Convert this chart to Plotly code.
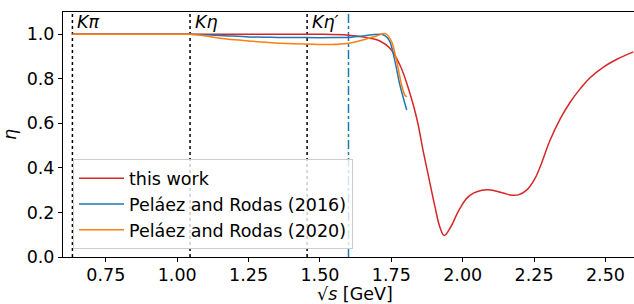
import plotly.graph_objects as go

# ---- data ----
red_x = [0.633, 0.8, 1.0, 1.2, 1.4, 1.5, 1.6, 1.64, 1.675, 1.71, 1.745, 1.78, 1.815, 1.839, 1.862,
         1.879, 1.903, 1.92, 1.935, 1.955, 1.99, 2.025, 2.084, 2.142, 2.17, 2.195, 2.224, 2.25, 2.271,
         2.306, 2.342, 2.377, 2.412, 2.447, 2.493, 2.54, 2.598]
red_y = [1.0, 1.0, 1.0, 1.0, 1.0, 1.0, 0.996, 0.99, 0.982, 0.97, 0.937, 0.862, 0.735, 0.623, 0.473,
         0.37, 0.225, 0.135, 0.097, 0.128, 0.217, 0.277, 0.302, 0.287, 0.278, 0.279, 0.30, 0.345, 0.404,
         0.524, 0.621, 0.696, 0.756, 0.806, 0.853, 0.888, 0.921]

blue_x = [0.633, 0.8, 1.0, 1.045, 1.15, 1.25, 1.35, 1.45, 1.55, 1.6, 1.65, 1.69, 1.715, 1.73, 1.745,
          1.763, 1.78, 1.804]
blue_y = [1.0, 1.0, 1.0, 1.0, 0.995, 0.988, 0.986, 0.985, 0.985, 0.986, 0.992, 0.999, 1.0, 0.992, 0.967,
          0.877, 0.772, 0.66]

orange_x = [0.633, 0.8, 1.0, 1.045, 1.10, 1.15, 1.25, 1.36, 1.48, 1.54, 1.6, 1.66, 1.70, 1.729, 1.751,
            1.769, 1.786, 1.796, 1.801, 1.805]
orange_y = [1.0, 1.0, 1.0, 1.0, 0.992, 0.982, 0.97, 0.96, 0.955, 0.954, 0.96, 0.978, 0.993, 1.003, 0.967,
            0.877, 0.772, 0.73, 0.722, 0.72]

thresholds = [0.633, 1.045, 1.455]
threshold_labels = ["<i>Kπ</i>", "<i>Kη</i>", "<i>Kη′</i>"]
cut_x = 1.6

x_ticks = [0.75, 1.00, 1.25, 1.50, 1.75, 2.00, 2.25, 2.50]
x_tick_labels = ["0.75", "1.00", "1.25", "1.50", "1.75", "2.00", "2.25", "2.50"]
y_ticks = [0.0, 0.2, 0.4, 0.6, 0.8, 1.0]
y_tick_labels = ["0.0", "0.2", "0.4", "0.6", "0.8", "1.0"]

FONT = "DejaVu Sans"
FS = 17.5

fig = go.Figure()
fig.add_trace(go.Scatter(x=red_x, y=red_y, mode="lines", name="this work",
                         line=dict(color="#d62728", width=1.5, shape="spline", smoothing=1.2),
                         legendgroup="a"))
fig.add_trace(go.Scatter(x=blue_x, y=blue_y, mode="lines", name="Peláez and Rodas (2016)",
                         line=dict(color="#1f77b4", width=1.5, shape="spline", smoothing=0.8),
                         legendgroup="b"))
fig.add_trace(go.Scatter(x=orange_x, y=orange_y, mode="lines", name="Peláez and Rodas (2020)",
                         line=dict(color="#ff7f0e", width=1.5, shape="spline", smoothing=0.8),
                         legendgroup="c"))

for t, lab in zip(thresholds, threshold_labels):
    fig.add_shape(type="line", x0=t, x1=t, y0=0, y1=1, xref="x", yref="paper",
                  line=dict(color="black", width=1.5, dash="dot"), layer="below")
    fig.add_annotation(x=t, y=0.96, xref="x", yref="paper", text=lab, showarrow=False,
                       xanchor="left", yanchor="middle", xshift=3,
                       font=dict(family=FONT, size=FS, color="black"))

fig.add_shape(type="line", x0=cut_x, x1=cut_x, y0=0, y1=1, xref="x", yref="paper",
              line=dict(color="#1f77b4", width=1.5, dash="dashdot"), layer="below")

fig.add_annotation(x=0.511, y=-0.15, xref="paper", yref="paper", text="√<i>s</i> [GeV]",
                   showarrow=False, xanchor="center", yanchor="middle",
                   font=dict(family=FONT, size=FS, color="black"))

fig.update_layout(
    width=634, height=304,
    margin=dict(l=63, r=0, t=12, b=47, autoexpand=False),
    paper_bgcolor="white", plot_bgcolor="white",
    font=dict(family=FONT, size=FS, color="black"),
    showlegend=True,
    legend=dict(x=0.0175, y=0.031, xanchor="left", yanchor="bottom", itemwidth=45,
                bgcolor="rgba(255,255,255,0.8)", bordercolor="#cccccc", borderwidth=1,
                font=dict(family=FONT, size=FS), tracegroupgap=0, traceorder="grouped"),
    xaxis=dict(range=[0.6, 2.6], tickvals=x_ticks, ticktext=x_tick_labels, automargin=False,
               showgrid=False, zeroline=False, showline=True, linecolor="black", linewidth=1,
               mirror=True, ticks="outside", ticklen=4, tickcolor="black", ticklabelstandoff=-2),
    yaxis=dict(range=[0, 1.1], tickvals=y_ticks, ticktext=y_tick_labels, automargin=False,
               showgrid=False, zeroline=False, showline=True, linecolor="black", linewidth=1,
               ticks="outside", ticklen=4, tickcolor="black",
               title=dict(text="<i>η</i>", standoff=8, font=dict(family=FONT, size=FS))),
)

fig.write_html("out.html", config={"displayModeBar": False},
               post_script="document.body.style.margin='0';document.body.style.padding='0';")
